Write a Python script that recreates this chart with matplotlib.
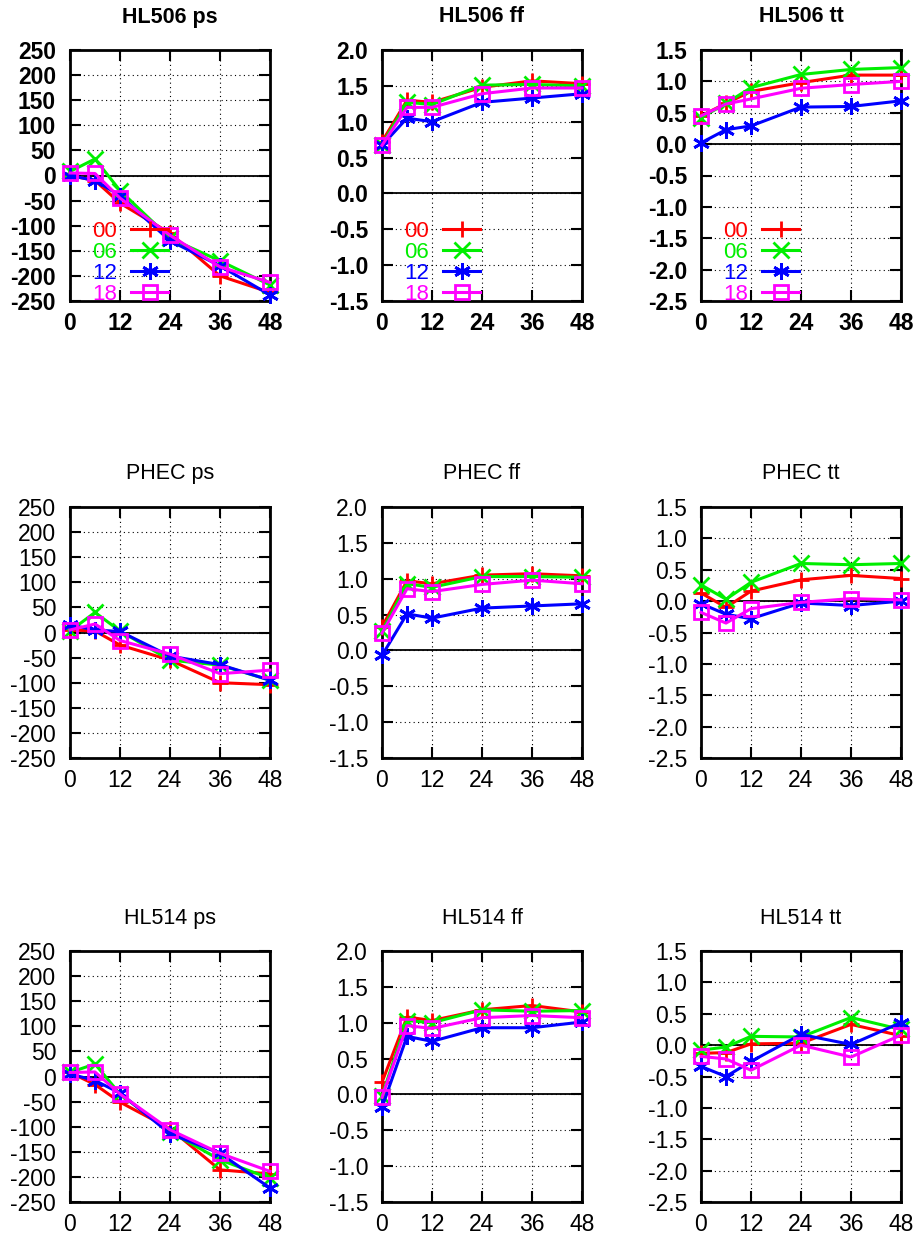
import numpy as np
import matplotlib
matplotlib.use("Agg")
import matplotlib.pyplot as plt

plt.rcParams['font.family'] = ['Liberation Sans', 'DejaVu Sans']

# forecast hours and run labels
hours = [0, 6, 12, 24, 36, 48]
runs = ["00", "06", "12", "18"]
colors = ["#ff0000", "#00ee00", "#0000ff", "#ff00ff"]
markers = ["+", "x", (6, 2, 0), "s"]

models = ["HL506", "PHEC", "HL514"]
params = ["ps", "ff", "tt"]

# one list per run (00, 06, 12, 18) in every panel
hl506_ps = [[0, -10, -55, -115, -200, -233],
            [8, 33, -30, -125, -170, -218],
            [0, -10, -40, -130, -180, -238],
            [5, 4, -45, -119, -182, -213]]
hl506_ff = [[0.72, 1.30, 1.27, 1.48, 1.57, 1.53],
            [0.68, 1.27, 1.24, 1.51, 1.52, 1.50],
            [0.67, 1.05, 1.00, 1.27, 1.33, 1.39],
            [0.67, 1.20, 1.20, 1.39, 1.47, 1.47]]
hl506_tt = [[0.45, 0.65, 0.84, 0.98, 1.10, 1.10],
            [0.42, 0.65, 0.90, 1.11, 1.19, 1.22],
            [0.02, 0.23, 0.29, 0.59, 0.60, 0.69],
            [0.45, 0.64, 0.72, 0.89, 0.95, 1.00]]

phec_ps = [[5, 3, -25, -55, -100, -104],
           [3, 40, 3, -55, -65, -95],
           [15, 5, 2, -47, -64, -95],
           [5, 17, -16, -43, -82, -75]]
phec_ff = [[0.33, 0.97, 0.93, 1.05, 1.07, 1.04],
           [0.27, 0.93, 0.88, 1.03, 1.03, 1.02],
           [-0.07, 0.51, 0.45, 0.59, 0.62, 0.65],
           [0.24, 0.86, 0.82, 0.92, 0.98, 0.93]]
phec_tt = [[0.13, -0.10, 0.16, 0.34, 0.41, 0.36],
           [0.26, 0.03, 0.30, 0.60, 0.58, 0.60],
           [-0.04, -0.21, -0.28, -0.03, -0.07, 0.00],
           [-0.18, -0.35, -0.12, -0.02, 0.04, 0.02]]

hl514_ps = [[8, -16, -51, -104, -186, -194],
            [8, 25, -35, -110, -166, -203],
            [5, -8, -33, -114, -153, -222],
            [8, 9, -35, -106, -153, -189]]
hl514_ff = [[0.17, 1.08, 1.03, 1.18, 1.24, 1.15],
            [-0.02, 1.03, 1.00, 1.18, 1.16, 1.17],
            [-0.18, 0.81, 0.74, 0.93, 0.93, 1.01],
            [-0.04, 0.96, 0.92, 1.07, 1.10, 1.07]]
hl514_tt = [[-0.13, -0.12, 0.02, 0.03, 0.33, 0.15],
            [-0.08, -0.03, 0.14, 0.13, 0.44, 0.25],
            [-0.34, -0.50, -0.26, 0.17, 0.01, 0.36],
            [-0.18, -0.22, -0.40, 0.00, -0.19, 0.16]]

panels = [[hl506_ps, hl506_ff, hl506_tt],
          [phec_ps, phec_ff, phec_tt],
          [hl514_ps, hl514_ff, hl514_tt]]

ylims = {"ps": (-250, 250), "ff": (-1.5, 2.0), "tt": (-2.5, 1.5)}
ysteps = {"ps": 50, "ff": 0.5, "tt": 0.5}

W, H = 920, 1236
fig = plt.figure(figsize=(W / 100, H / 100), dpi=100)

col_left = [70, 382, 701]
row_top = [50, 507, 951]
aw, ah = 200, 251

for r, model in enumerate(models):
    bold = "bold" if r == 0 else "normal"
    for c, par in enumerate(params):
        ax = fig.add_axes([col_left[c] / W, 1 - (row_top[r] + ah) / H, aw / W, ah / H])
        data = panels[r][c]
        for k in range(4):
            ax.plot(hours, data[k], color=colors[k], marker=markers[k], lw=2.2,
                    ms=12 if k < 3 else 10, mew=2, fillstyle="none",
                    label=runs[k], clip_on=False, zorder=3)
        lo, hi = ylims[par]
        ax.set_xlim(0, 48)
        ax.set_ylim(lo, hi)
        ax.set_xticks([0, 12, 24, 36, 48])
        yt = np.arange(lo, hi + ysteps[par] / 2, ysteps[par])
        ax.set_yticks(yt)
        if par == "ps":
            ax.set_yticklabels(["%d" % v for v in yt])
        else:
            ax.set_yticklabels(["%.1f" % v for v in yt])
        ax.axhline(0, color="black", lw=1.3, zorder=2)
        ax.grid(True, color="black", linestyle=(0, (1, 3)), lw=0.8)
        ax.tick_params(direction="in", length=8, width=1.5, top=True, right=True,
                       labelsize=16.5)
        ax.tick_params(axis="y", pad=10)
        ax.tick_params(axis="x", pad=8)
        for lab in ax.get_xticklabels() + ax.get_yticklabels():
            lab.set_fontweight(bold)
        for s in ax.spines.values():
            s.set_linewidth(2)
        ax.text(0.5, 1 + 33 / ah, model + " " + par, transform=ax.transAxes,
                ha="center", va="center", fontsize=15.5, fontweight=bold)
        if r == 0:
            ax.legend(loc="lower left", bbox_to_anchor=(0.11, -0.015),
                      frameon=False, markerfirst=False, labelcolor="linecolor",
                      fontsize=16, handlelength=1.65, handletextpad=0.65,
                      labelspacing=0.0, borderpad=0, borderaxespad=0.0)

fig.savefig("out.png", dpi=100)
